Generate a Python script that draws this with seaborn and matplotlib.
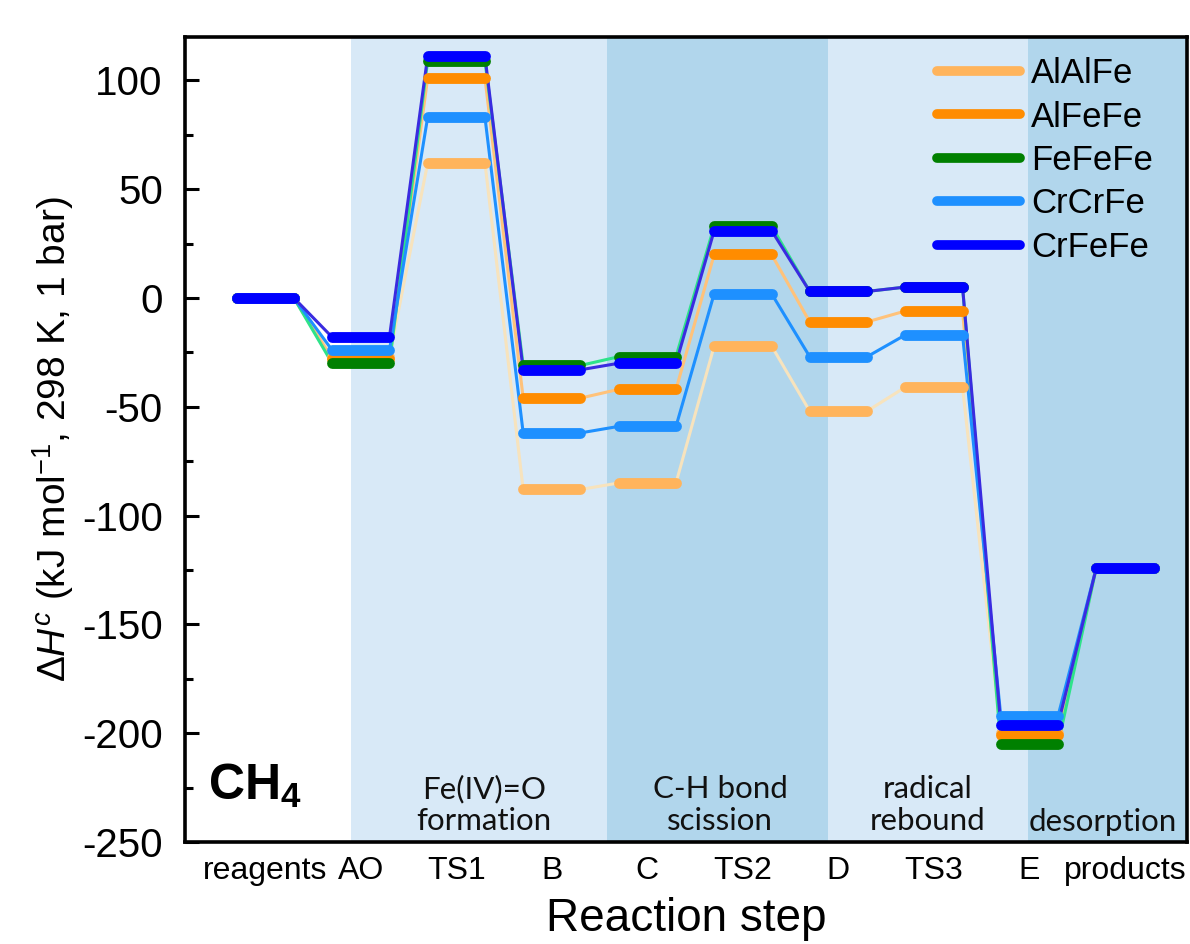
import pandas as pd
import matplotlib
matplotlib.use("Agg")
import matplotlib.pyplot as plt
import seaborn as sns
from matplotlib.lines import Line2D
from matplotlib.ticker import MultipleLocator

# data (kJ/mol)
steps = ["reagents", "AO", "TS1", "B", "C", "TS2", "D", "TS3", "E", "products"]
catalysts = ["AlAlFe", "AlFeFe", "FeFeFe", "CrCrFe", "CrFeFe"]
AlAlFe = [0, -27, 62, -88, -85, -22, -52, -41, -200, -124]
AlFeFe = [0, -28, 101, -46, -42, 20, -11, -6, -201, -124]
FeFeFe = [0, -30, 109, -31, -27, 33, 3, 5, -205, -124]
CrCrFe = [0, -24, 83, -62, -59, 2, -27, -17, -192, -124]
CrFeFe = [0, -18, 111, -33, -30, 31, 3, 5, -196, -124]
values = {"AlAlFe": AlAlFe, "AlFeFe": AlFeFe, "FeFeFe": FeFeFe,
          "CrCrFe": CrCrFe, "CrFeFe": CrFeFe}

level_colors = {"AlAlFe": "#ffb45c", "AlFeFe": "#ff8c00", "FeFeFe": "#008000",
                "CrCrFe": "#1e90ff", "CrFeFe": "#0000ff"}
link_colors = {"AlAlFe": "#f7e3bd", "AlFeFe": "#ffc27a", "FeFeFe": "#2ee38a",
               "CrCrFe": "#1e90ff", "CrFeFe": "#3a2be0"}

sns.set_theme(style="ticks")
plt.rcParams["font.family"] = ["Liberation Sans", "DejaVu Sans"]
plt.rcParams["mathtext.fontset"] = "custom"
plt.rcParams["mathtext.rm"] = "Liberation Sans"
plt.rcParams["mathtext.it"] = "Liberation Sans:italic"
plt.rcParams["mathtext.bf"] = "Liberation Sans:bold"
plt.rcParams["axes.unicode_minus"] = False
for key in ["text.color", "axes.labelcolor", "xtick.color", "ytick.color"]:
    plt.rcParams[key] = "black"

half = 0.3  # half width of each energy level

# long form path: each level gives a left and a right point
rows = []
for cat in catalysts:
    for i, v in enumerate(values[cat]):
        rows.append({"catalyst": cat, "x": i - half, "dH": v})
        rows.append({"catalyst": cat, "x": i + half, "dH": v})
df = pd.DataFrame(rows)

fig = plt.figure(figsize=(11.9, 9.44), dpi=100)
ax = fig.add_axes([0.1555, 0.108, 0.842, 0.853])

# shaded stage regions
light, dark = "#d8e9f7", "#b1d6ec"
ax.axvspan(0.9, 3.58, color=light, lw=0, zorder=0)
ax.axvspan(3.58, 5.89, color=dark, lw=0, zorder=0)
ax.axvspan(5.89, 7.98, color=light, lw=0, zorder=0)
ax.axvspan(7.98, 10, color=dark, lw=0, zorder=0)

# thin connectors
sns.lineplot(data=df, x="x", y="dH", hue="catalyst", units="catalyst",
             estimator=None, sort=False, palette=link_colors, lw=2.2,
             legend=False, ax=ax, zorder=2)

# thick levels
for k, cat in enumerate(catalysts):
    for i, v in enumerate(values[cat]):
        ax.plot([i - half, i + half], [v, v], color=level_colors[cat], lw=7.8,
                solid_capstyle="round", zorder=3 + k)

ax.set_xlim(-0.84, 9.65)
ax.set_ylim(-250, 120)
ax.set_xticks(range(len(steps)))
ax.set_xticklabels(steps, fontsize=23)
ax.tick_params(axis="x", length=0, pad=10)
ax.yaxis.set_major_locator(MultipleLocator(50))
ax.yaxis.set_minor_locator(MultipleLocator(25))
ax.tick_params(axis="y", which="major", direction="in", length=10, width=2.2,
               labelsize=29, pad=16)
ax.tick_params(axis="y", which="minor", direction="in", length=6, width=2.2)
for s in ax.spines.values():
    s.set_linewidth(2.6)
    s.set_color("black")

ax.set_xlabel("Reaction step", fontsize=33, labelpad=8)
ax.set_ylabel(r"$\Delta H^c$ (kJ mol$^{-1}$, 298 K, 1 bar)", fontsize=28,
              labelpad=4)

# stage annotations
note_font = dict(family=["Lato", "DejaVu Sans"], fontsize=22.5, ha="center",
                 va="center", color="#111111", linespacing=1.15)
ax.text(2.29, -233, "Fe(IV)=O\nformation", **note_font)
ax.text(4.76, -233, "C-H bond\nscission", **note_font)
ax.text(6.93, -233, "radical\nrebound", **note_font)
ax.text(8.77, -241, "desorption", **note_font)
ax.text(-0.6, -224, r"$\mathbf{CH_4}$", fontsize=36, ha="left", va="center")

handles = [Line2D([], [], color=level_colors[c], lw=7, solid_capstyle="round")
           for c in catalysts]
ax.legend(handles, catalysts, loc="upper right", bbox_to_anchor=(0.99, 1.005),
          frameon=False, fontsize=25, handlelength=2.4, handletextpad=0.3,
          labelspacing=0.3, borderpad=0.2)

fig.savefig("out.png", dpi=100)
